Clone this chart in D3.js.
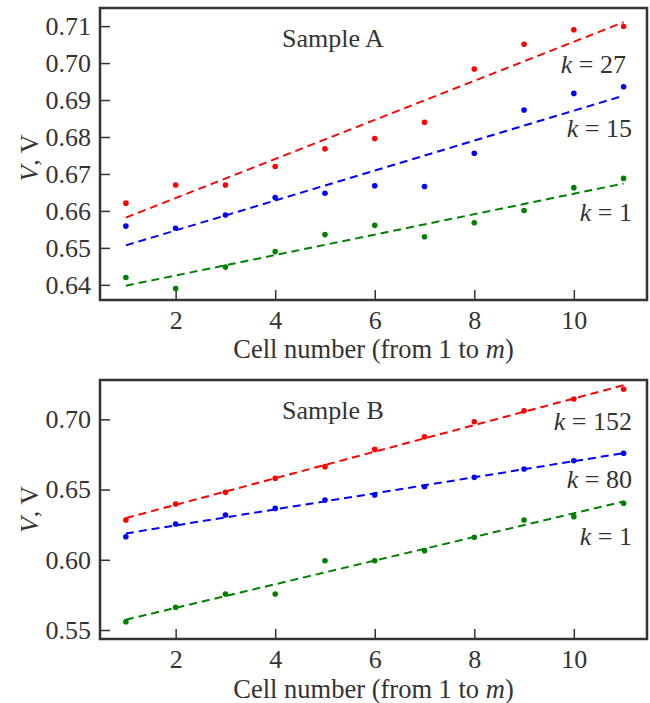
<!DOCTYPE html>
<html>
<head>
<meta charset="utf-8">
<script src="https://cdn.jsdelivr.net/npm/d3@7"></script>
<style>
  body { margin: 0; background: #fff; }
</style>
</head>
<body>
<div id="chart"></div>
<script>
// cell numbers shared by both samples
const cells = [1, 2, 3, 4, 5, 6, 7, 8, 9, 10, 11]
const xTicks = [2, 4, 6, 8, 10]

// Sample A
const aK27 = [0.6621, 0.6670, 0.6670, 0.6720, 0.6768, 0.6796, 0.6840, 0.6984, 0.7051, 0.7090, 0.7099]
const aK15 = [0.6559, 0.6553, 0.6589, 0.6636, 0.6648, 0.6668, 0.6666, 0.6756, 0.6873, 0.6918, 0.6936]
const aK1  = [0.6420, 0.6390, 0.6448, 0.6490, 0.6536, 0.6561, 0.6530, 0.6568, 0.6601, 0.6663, 0.6688]
const aTicks = [0.64, 0.65, 0.66, 0.67, 0.68, 0.69, 0.70, 0.71]

// Sample B
const bK152 = [0.6283, 0.6397, 0.6480, 0.6580, 0.6663, 0.6786, 0.6876, 0.6983, 0.7061, 0.7145, 0.7214]
const bK80  = [0.6164, 0.6255, 0.6319, 0.6366, 0.6425, 0.6461, 0.6520, 0.6587, 0.6646, 0.6705, 0.6758]
const bK1   = [0.5559, 0.5662, 0.5756, 0.5756, 0.5993, 0.5993, 0.6065, 0.6160, 0.6283, 0.6307, 0.6402]
const bTicks = [0.55, 0.60, 0.65, 0.70]

const width = 650
const height = 703
const font = "'Liberation Serif', serif"
const fs = 26
const ink = "#333"

const svg = d3.select("#chart").append("svg")
  .attr("width", width)
  .attr("height", height)

// least squares line through a series
const fit = ys => {
  const mx = d3.mean(cells), my = d3.mean(ys)
  const slope = d3.sum(cells, (c, i) => (c - mx) * (ys[i] - my)) / d3.sum(cells, c => (c - mx) ** 2)
  return c => my + slope * (c - mx)
}

const label = (sel, size = fs) => sel
  .attr("font-family", font)
  .attr("font-size", size)
  .attr("fill", ink)

const drawPanel = (opts) => {
  const { top, bottom, yDomain, yTicks, title, series, xTitleGap, yTitleShift } = opts
  const left = 100, right = 647

  const x = d3.scaleLinear().domain([0.48, 11.47]).range([left, right])
  const y = d3.scaleLinear().domain(yDomain).range([bottom, top])

  const g = svg.append("g")

  g.append("g")
    .attr("transform", `translate(0,${bottom})`)
    .call(d3.axisBottom(x).tickValues(xTicks).tickSize(-10).tickPadding(11).tickSizeOuter(0))
    .call(g => g.select(".domain").remove())
    .call(g => g.selectAll(".tick line").attr("stroke", ink).attr("stroke-width", 1.5))
    .call(g => g.selectAll(".tick text").call(label))

  g.append("g")
    .attr("transform", `translate(${left},0)`)
    .call(d3.axisLeft(y).tickValues(yTicks).tickFormat(d3.format(".2f")).tickSize(-10).tickPadding(9).tickSizeOuter(0))
    .call(g => g.select(".domain").remove())
    .call(g => g.selectAll(".tick line").attr("stroke", ink).attr("stroke-width", 1.5))
    .call(g => g.selectAll(".tick text").call(label))

  g.append("rect")
    .attr("x", left)
    .attr("y", top)
    .attr("width", right - left)
    .attr("height", bottom - top)
    .attr("fill", "none")
    .attr("stroke", ink)
    .attr("stroke-width", 2.5)

  series.forEach(s => {
    const f = fit(s.values)
    g.append("line")
      .attr("x1", x(cells[0]))
      .attr("y1", y(f(cells[0])))
      .attr("x2", x(cells[cells.length - 1]))
      .attr("y2", y(f(cells[cells.length - 1])))
      .attr("stroke", s.color)
      .attr("stroke-width", 2)
      .attr("stroke-dasharray", "8,5")

    g.selectAll(null)
      .data(s.values)
      .join("circle")
      .attr("cx", (d, i) => x(cells[i]))
      .attr("cy", d => y(d))
      .attr("r", 2.8)
      .attr("fill", s.color)

    const lbl = g.append("text")
      .attr("x", s.lx)
      .attr("y", s.ly)
      .attr("text-anchor", "end")
      .call(label)
    lbl.append("tspan").attr("font-style", "italic").text("k")
    lbl.append("tspan").text(" = " + s.k)
  })

  g.append("text")
    .attr("x", 282)
    .attr("y", top + 39)
    .call(label)
    .text(title)

  const xt = g.append("text")
    .attr("x", (left + right) / 2)
    .attr("y", bottom + xTitleGap)
    .attr("text-anchor", "middle")
    .call(label, 26.5)
  xt.append("tspan").text("Cell number (from 1 to ")
  xt.append("tspan").attr("font-style", "italic").text("m")
  xt.append("tspan").text(")")

  const yt = g.append("text")
    .attr("transform", `translate(38,${(top + bottom) / 2 + yTitleShift}) rotate(-90)`)
    .attr("text-anchor", "middle")
    .call(label)
  yt.append("tspan").attr("font-style", "italic").text("V")
  yt.append("tspan").text(", V")
}

drawPanel({
  top: 8, bottom: 300,
  yDomain: [0.6359, 0.7149],
  yTicks: aTicks,
  title: "Sample A",
  xTitleGap: 58,
  yTitleShift: 4,
  series: [
    { values: aK27, color: "#ff0000", k: "27", lx: 626, ly: 73 },
    { values: aK15, color: "#0000ff", k: "15", lx: 632, ly: 137 },
    { values: aK1, color: "#008000", k: "1", lx: 632, ly: 221 }
  ]
})

drawPanel({
  top: 380, bottom: 639,
  yDomain: [0.5436, 0.728],
  yTicks: bTicks,
  title: "Sample B",
  xTitleGap: 59,
  yTitleShift: 0,
  series: [
    { values: bK152, color: "#ff0000", k: "152", lx: 632, ly: 430 },
    { values: bK80, color: "#0000ff", k: "80", lx: 632, ly: 488 },
    { values: bK1, color: "#008000", k: "1", lx: 632, ly: 545 }
  ]
})
</script>
</body>
</html>
